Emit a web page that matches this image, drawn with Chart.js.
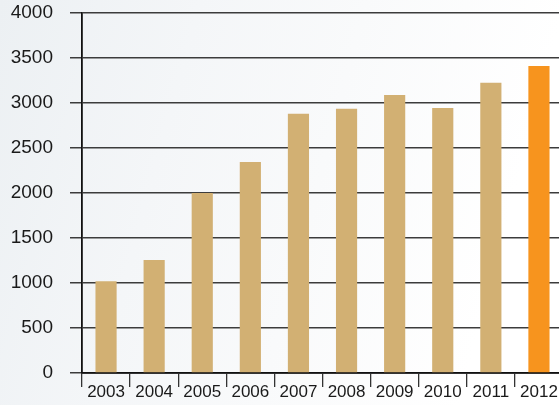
<!DOCTYPE html>
<html>
<head>
<meta charset="utf-8">
<script src="https://cdn.jsdelivr.net/npm/chart.js@4"></script>
<style>
  html, body {
    margin: 0;
    width: 559px;
    height: 405px;
    overflow: hidden;
    background: linear-gradient(105deg, #ecf0f3 0%, #f4f6f8 30%, #f9fafb 55%, #ffffff 85%);
  }
  #wrap {
    position: relative;
    width: 563px;
    height: 405px;
  }
</style>
</head>
<body>
<div id="wrap"><canvas id="yearChart"></canvas></div>
<script>
const years = ['2003', '2004', '2005', '2006', '2007', '2008', '2009', '2010', '2011', '2012'];
const totals = [1020, 1255, 2000, 2345, 2880, 2935, 3090, 2945, 3225, 3410];
const yTicks = [0, 500, 1000, 1500, 2000, 2500, 3000, 3500, 4000];

// last year gets the highlight colour
const barColors = years.map((y, i) => i === years.length - 1 ? '#f7941e' : '#d2b073');

const fontFamily = '"Liberation Sans", Arial, sans-serif';

const ctx = document.getElementById('yearChart');
new Chart(ctx, {
  type: 'bar',
  data: {
    labels: years,
    datasets: [{
      data: totals,
      backgroundColor: barColors,
      borderWidth: 0,
      barPercentage: 0.88,
      categoryPercentage: 0.5
    }]
  },
  options: {
    responsive: true,
    maintainAspectRatio: false,
    animation: false,
    layout: { padding: { top: 13, left: 0, right: 0, bottom: 0 } },
    plugins: {
      legend: { display: false },
      tooltip: { enabled: false }
    },
    scales: {
      x: {
        grid: {
          offset: true,
          drawOnChartArea: false,
          drawTicks: true,
          tickLength: 14,
          color: '#333',
          lineWidth: 1.3
        },
        border: { display: true, color: '#111', width: 1.8 },
        ticks: {
          color: '#1a1a1a',
          padding: -5,
          font: { family: fontFamily, size: 17 }
        },
        afterFit: (scale) => {
          scale.height = 32;
          scale.paddingLeft = 0;
          scale.paddingRight = 0;
        }
      },
      y: {
        min: 0,
        max: 4000,
        afterBuildTicks: (scale) => {
          scale.ticks = yTicks.map(v => ({ value: v }));
        },
        grid: {
          color: '#3c3c3c',
          lineWidth: 1.5,
          drawTicks: true,
          tickLength: 12
        },
        border: { display: true, color: '#111', width: 1.8 },
        ticks: {
          color: '#1a1a1a',
          padding: 17,
          font: { family: fontFamily, size: 19 },
          callback: (value) => String(value)
        },
        afterFit: (scale) => {
          scale.width = 82;
          scale.paddingTop = 0;
          scale.paddingBottom = 0;
        }
      }
    }
  }
});
</script>
</body>
</html>
